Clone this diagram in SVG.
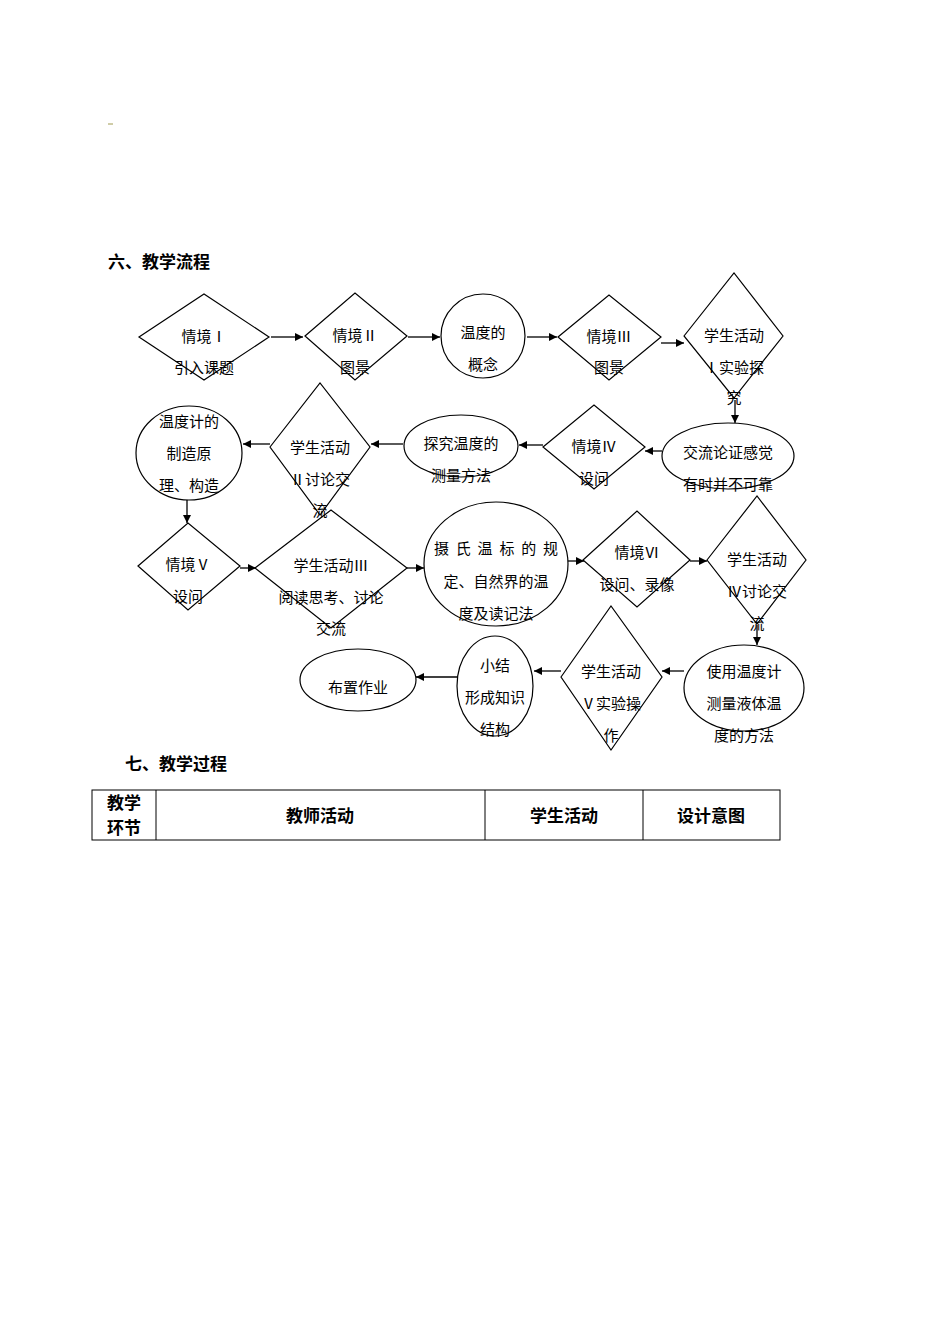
<svg xmlns="http://www.w3.org/2000/svg" width="950" height="1344" viewBox="0 0 950 1344">
<defs>
<marker id="ah" viewBox="0 0 10 10" refX="10" refY="5" markerWidth="8" markerHeight="8" markerUnits="userSpaceOnUse" orient="auto"><path d="M0,0 L10,5 L0,10 z" fill="#000"/></marker>
</defs>
<style>
.s{fill:none;stroke:#000;stroke-width:1.2}
.t{font-family:"Liberation Serif","Noto Sans CJK SC",serif;font-size:15px;text-anchor:middle;fill:#000}
.h{font-family:"Liberation Sans","Noto Sans CJK SC",sans-serif;font-size:17px;font-weight:bold;fill:#000}
.c{stroke:#000;stroke-width:1.3;fill:none;marker-end:url(#ah)}
</style>
<rect width="950" height="1344" fill="#fff"/>
<line x1="108" y1="124" x2="113" y2="124" stroke="#a09a50" stroke-width="1"/>
<text class="h" x="108" y="268">六、教学流程</text>
<g id="n1"><polygon class="s" points="139,337 204,294 269,337 204,380"/><text class="t" x="204" y="342">情境Ⅰ</text><text class="t" x="204" y="373">引入课题</text></g>
<g id="n2"><polygon class="s" points="305,336 355,293 407,336 355,380"/><text class="t" x="355" y="341">情境Ⅱ</text><text class="t" x="355" y="373">图景</text></g>
<g id="n3"><ellipse class="s" cx="483" cy="336" rx="42" ry="42"/><text class="t" x="483" y="338">温度的</text><text class="t" x="483" y="370">概念</text></g>
<g id="n4"><polygon class="s" points="558,337 609,295 661,337 609,380"/><text class="t" x="609" y="342">情境Ⅲ</text><text class="t" x="609" y="373">图景</text></g>
<g id="n5"><polygon class="s" points="684,336 734,273 783,336 734,398"/><text class="t" x="734" y="341">学生活动</text><text class="t" x="734" y="373">Ⅰ实验探</text><text class="t" x="734" y="403">究</text></g>
<g id="n6"><ellipse class="s" cx="728" cy="456" rx="66" ry="33"/><text class="t" x="728" y="458">交流论证感觉</text><text class="t" x="728" y="490">有时并不可靠</text></g>
<g id="n7"><polygon class="s" points="543,447 594,405 645,447 594,489"/><text class="t" x="594" y="452">情境Ⅳ</text><text class="t" x="594" y="484">设问</text></g>
<g id="n8"><ellipse class="s" cx="461" cy="446" rx="57" ry="31"/><text class="t" x="461" y="449">探究温度的</text><text class="t" x="461" y="481">测量方法</text></g>
<g id="n9"><polygon class="s" points="270,447 320,383 370,447 320,515"/><text class="t" x="320" y="453">学生活动</text><text class="t" x="320" y="485">Ⅱ讨论交</text><text class="t" x="320" y="516">流</text></g>
<g id="n10"><ellipse class="s" cx="189" cy="453" rx="53" ry="47"/><text class="t" x="189" y="427">温度计的</text><text class="t" x="189" y="459">制造原</text><text class="t" x="189" y="491">理、构造</text></g>
<g id="n11"><polygon class="s" points="138,566 188,523 240,566 188,610"/><text class="t" x="188" y="570">情境Ⅴ</text><text class="t" x="188" y="602">设问</text></g>
<g id="n12"><polygon class="s" points="255,568 331,510 407,568 331,628"/><text class="t" x="331" y="571">学生活动Ⅲ</text><text class="t" x="331" y="603">阅读思考、讨论</text><text class="t" x="331" y="634">交流</text></g>
<g id="n13"><ellipse class="s" cx="496" cy="564" rx="72" ry="62"/><text class="t" x="496" y="554" textLength="124">摄氏温标的规</text><text class="t" x="496" y="587">定、自然界的温</text><text class="t" x="496" y="619">度及读记法</text></g>
<g id="n14"><polygon class="s" points="583,560 637,511 690,560 637,607"/><text class="t" x="637" y="558">情境Ⅵ</text><text class="t" x="637" y="590">设问、录像</text></g>
<g id="n15"><polygon class="s" points="707,560 757,496 806,560 757,624"/><text class="t" x="757" y="565">学生活动</text><text class="t" x="757" y="597">Ⅳ讨论交</text><text class="t" x="757" y="629">流</text></g>
<g id="n16"><ellipse class="s" cx="744" cy="688" rx="60" ry="43"/><text class="t" x="744" y="677">使用温度计</text><text class="t" x="744" y="709">测量液体温</text><text class="t" x="744" y="741">度的方法</text></g>
<g id="n17"><polygon class="s" points="561,677 611,606 662,677 611,750"/><text class="t" x="611" y="677">学生活动</text><text class="t" x="611" y="709">Ⅴ实验操</text><text class="t" x="611" y="741">作</text></g>
<g id="n18"><ellipse class="s" cx="495" cy="686" rx="38" ry="50"/><text class="t" x="495" y="671">小结</text><text class="t" x="495" y="703">形成知识</text><text class="t" x="495" y="735">结构</text></g>
<g id="n19"><ellipse class="s" cx="358" cy="680" rx="58" ry="31"/><text class="t" x="358" y="693">布置作业</text></g>
<g id="connectors">
<line class="c" x1="271" y1="337" x2="303" y2="337"/>
<line class="c" x1="408" y1="337" x2="440" y2="337"/>
<line class="c" x1="527" y1="337" x2="557" y2="337"/>
<line class="c" x1="661" y1="343" x2="684" y2="343"/>
<line class="c" x1="735" y1="400" x2="735" y2="423"/>
<line class="c" x1="662" y1="451" x2="645" y2="451"/>
<line class="c" x1="543" y1="445" x2="519" y2="445"/>
<line class="c" x1="403" y1="444" x2="371" y2="444"/>
<line class="c" x1="270" y1="444" x2="243" y2="444"/>
<line class="c" x1="187" y1="500" x2="187" y2="523"/>
<line class="c" x1="240" y1="568" x2="256" y2="568"/>
<line class="c" x1="407" y1="568" x2="424" y2="568"/>
<line class="c" x1="568" y1="561" x2="584" y2="561"/>
<line class="c" x1="690" y1="561" x2="707" y2="561"/>
<line class="c" x1="757" y1="625" x2="757" y2="645"/>
<line class="c" x1="684" y1="671" x2="662" y2="671"/>
<line class="c" x1="561" y1="671" x2="534" y2="671"/>
<line class="c" x1="457" y1="677" x2="416" y2="677"/>
</g>
<text class="h" x="125" y="770">七、教学过程</text>
<g id="table" fill="none" stroke="#000" stroke-width="1">
<rect x="92" y="790" width="688" height="50"/>
<line x1="156" y1="790" x2="156" y2="840"/>
<line x1="485" y1="790" x2="485" y2="840"/>
<line x1="643" y1="790" x2="643" y2="840"/>
</g>
<text class="h" x="124" y="809" text-anchor="middle">教学</text>
<text class="h" x="124" y="834" text-anchor="middle">环节</text>
<text class="h" x="320" y="822" text-anchor="middle">教师活动</text>
<text class="h" x="564" y="822" text-anchor="middle">学生活动</text>
<text class="h" x="711" y="822" text-anchor="middle">设计意图</text>
</svg>
